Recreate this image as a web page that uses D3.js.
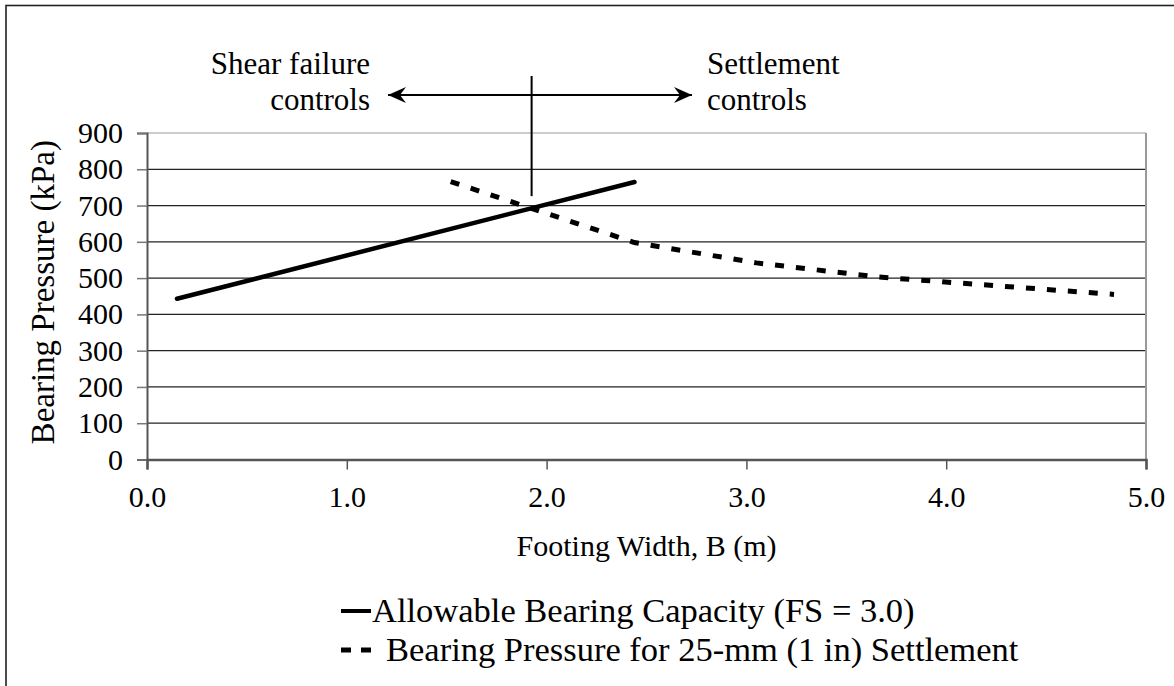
<!DOCTYPE html>
<html>
<head>
<meta charset="utf-8">
<script src="https://cdn.jsdelivr.net/npm/d3@7"></script>
<style>
  body { margin: 0; background: #fff; }
  svg { display: block; }
  text { font-family: "Liberation Serif", "Times New Roman", serif; fill: #000; }
</style>
</head>
<body>
<svg id="chart" width="1174" height="686"></svg>
<script>
// chart values
const capacityB = [0.15, 2.44];        // footing width, m
const capacityQ = [443, 765];          // allowable bearing capacity, kPa
const settleB = [1.52, 2.44, 3.05, 3.66, 4.84];
const settleQ = [766, 598, 542, 503, 455];
const xTicks = [0, 1, 2, 3, 4, 5];
const yTicks = [0, 100, 200, 300, 400, 500, 600, 700, 800, 900];
const legendLabels = ["Allowable Bearing Capacity (FS = 3.0)", "Bearing Pressure for 25-mm (1 in) Settlement"];

const svg = d3.select('#chart');
const plot = { left: 147, right: 1146, top: 133, bottom: 459.5 };

const x = d3.scaleLinear().domain([0, 5]).range([plot.left, plot.right]);
const y = d3.scaleLinear().domain([0, 900]).range([plot.bottom, plot.top]);

// outer frame (runs off the right / bottom edge like the original)
svg.append('rect')
    .attr('x', 6).attr('y', 5.5)
    .attr('width', 1200).attr('height', 720)
    .attr('fill', 'none').attr('stroke', '#222').attr('stroke-width', 1.6);

// gridlines
svg.append('g').selectAll('line')
    .data(yTicks.filter(d => d > 0))
    .join('line')
    .attr('x1', plot.left).attr('x2', plot.right)
    .attr('y1', d => y(d)).attr('y2', d => y(d))
    .attr('stroke', d => d === 900 ? '#999' : '#222')
    .attr('stroke-width', 1.2);

// right border of plot
svg.append('line')
    .attr('x1', plot.right).attr('x2', plot.right)
    .attr('y1', plot.top).attr('y2', plot.bottom)
    .attr('stroke', '#999').attr('stroke-width', 2);

// y axis
const yAxis = d3.axisLeft(y).tickValues(yTicks).tickSize(10).tickPadding(14).tickFormat(d3.format('d'));
const gy = svg.append('g').attr('transform', `translate(${plot.left},0)`).call(yAxis);
gy.select('.domain').attr('stroke', '#555').attr('stroke-width', 2);
gy.selectAll('.tick line').attr('stroke', '#777').attr('stroke-width', 1.5);
gy.selectAll('.tick text').attr('font-size', 30).attr('font-family', '"Liberation Serif", serif').attr('fill', '#000');

// x axis
const xAxis = d3.axisBottom(x).tickValues(xTicks).tickSize(10).tickPadding(16).tickFormat(d3.format('.1f'));
const gx = svg.append('g').attr('transform', `translate(0,${plot.bottom})`).call(xAxis);
gx.select('.domain').attr('stroke', '#555').attr('stroke-width', 2.5);
gx.selectAll('.tick line').attr('stroke', '#555').attr('stroke-width', 1.5);
gx.selectAll('.tick text').attr('font-size', 30).attr('font-family', '"Liberation Serif", serif').attr('fill', '#000');

// axis titles
svg.append('text')
    .attr('x', x(2.5)).attr('y', 556)
    .attr('text-anchor', 'middle').attr('font-size', 30)
    .text('Footing Width, B (m)');

svg.append('text')
    .attr('transform', `translate(54,${(plot.top + plot.bottom) / 2 - 4}) rotate(-90)`)
    .attr('text-anchor', 'middle').attr('font-size', 33)
    .text('Bearing Pressure (kPa)');

// series
const line = d3.line().x(d => x(d[0])).y(d => y(d[1]));
const capData = capacityB.map((b, i) => [b, capacityQ[i]]);
const setData = settleB.map((b, i) => [b, settleQ[i]]);

svg.append('path').datum(setData)
    .attr('d', line).attr('fill', 'none')
    .attr('stroke', '#000').attr('stroke-width', 5)
    .attr('stroke-dasharray', '9,12');

svg.append('path').datum(capData)
    .attr('d', line).attr('fill', 'none')
    .attr('stroke', '#000').attr('stroke-width', 4.5)
    .attr('stroke-linecap', 'round');

// annotation: divider and arrows
const defs = svg.append('defs');
defs.append('marker')
    .attr('id', 'head').attr('viewBox', '-20 -10 22 20')
    .attr('refX', 0).attr('refY', 0)
    .attr('markerWidth', 22).attr('markerHeight', 20)
    .attr('markerUnits', 'userSpaceOnUse')
    .attr('orient', 'auto')
    .append('path').attr('d', 'M0,0 L-18,-8 L-12,0 L-18,8 Z').attr('fill', '#000');

const splitB = 1.925;
svg.append('line')
    .attr('x1', x(splitB)).attr('x2', x(splitB))
    .attr('y1', 76).attr('y2', y(726))
    .attr('stroke', '#000').attr('stroke-width', 2);

svg.append('line')
    .attr('x1', x(splitB)).attr('x2', 388).attr('y1', 95).attr('y2', 95)
    .attr('stroke', '#000').attr('stroke-width', 2).attr('marker-end', 'url(#head)');
svg.append('line')
    .attr('x1', x(splitB)).attr('x2', 692).attr('y1', 95).attr('y2', 95)
    .attr('stroke', '#000').attr('stroke-width', 2).attr('marker-end', 'url(#head)');

const leftNote = svg.append('text').attr('text-anchor', 'end').attr('font-size', 31);
leftNote.append('tspan').attr('x', 370).attr('y', 74).text('Shear failure');
leftNote.append('tspan').attr('x', 370).attr('y', 110).text('controls');

const rightNote = svg.append('text').attr('text-anchor', 'start').attr('font-size', 31);
rightNote.append('tspan').attr('x', 707).attr('y', 74).text('Settlement');
rightNote.append('tspan').attr('x', 707).attr('y', 110).text('controls');

// legend
const legend = svg.append('g');
const rows = [
    { label: legendLabels[0], dash: null, y: 611 },
    { label: legendLabels[1], dash: '10,10', y: 650 }
];
rows.forEach(r => {
    legend.append('line')
        .attr('x1', 341).attr('x2', 371).attr('y1', r.y).attr('y2', r.y)
        .attr('stroke', '#000').attr('stroke-width', r.dash ? 5 : 4)
        .attr('stroke-dasharray', r.dash);
    legend.append('text')
        .attr('x', r.dash ? 386 : 372).attr('y', r.y + 11)
        .attr('font-size', 34.5)
        .text(r.label);
});
</script>
</body>
</html>
